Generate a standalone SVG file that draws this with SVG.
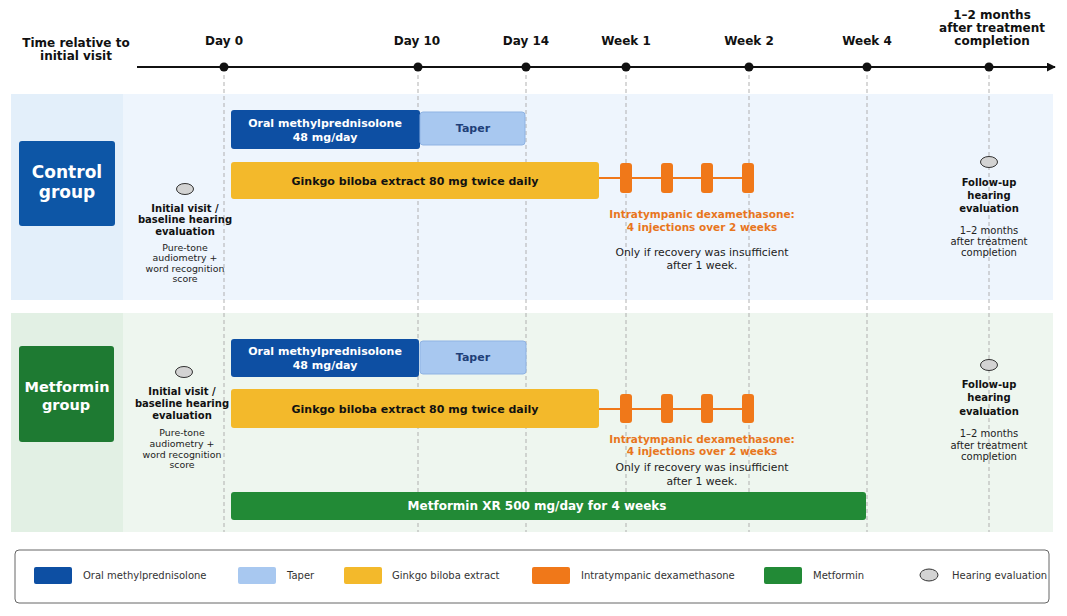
<svg xmlns="http://www.w3.org/2000/svg" width="1067" height="616" viewBox="0 0 1067 616">
<defs>
<style>
text{font-family:"DejaVu Sans","Liberation Sans",sans-serif;text-anchor:middle;}
.hdr{font-size:12px;font-weight:bold;fill:#111;}
.grp{font-size:17px;font-weight:bold;fill:#fff;}
.grp2{font-size:14.5px;font-weight:bold;fill:#fff;}
.bar{font-size:11px;font-weight:bold;}
.w{fill:#fff;}
.dk{fill:#111;}
.tp{fill:#1f3f78;}
.ev{font-size:10px;font-weight:bold;fill:#111;}
.sub{font-size:9.4px;fill:#222;}
.sub2{font-size:10px;fill:#222;}
.or{font-size:10.5px;font-weight:bold;fill:#e8761e;}
.note{font-size:10.8px;fill:#222;}
.lg{font-size:10px;fill:#333;text-anchor:start;}
.vd{stroke:#a8a8a8;stroke-width:0.9;stroke-dasharray:4,3;fill:none;}
.dot{fill:#111;}
.eval{fill:#d3d3d3;stroke:#333;stroke-width:1;}
.inj{fill:#f07819;}
.mp{fill:#0d4fa3;}
.tap{fill:#a8c8f0;stroke:#8fb3e3;stroke-width:1;}
.gk{fill:#f3b92b;}
.mf{fill:#228a36;}
</style>
<marker id="arr" viewBox="0 0 10 10" refX="9" refY="5" markerWidth="9" markerHeight="9" markerUnits="userSpaceOnUse" orient="auto"><path d="M0,0 L10,5 L0,10 z" fill="#111"/></marker>
</defs>
<rect width="1067" height="616" fill="#fff"/>

<!-- bands -->
<g id="band-control">
<rect x="11" y="94" width="1042" height="206" fill="#eef5fd"/>
<rect x="11" y="94" width="112" height="206" fill="#e3effa"/>
</g>
<g id="band-metformin">
<rect x="11" y="313" width="1042" height="219" fill="#eef6ef"/>
<rect x="11" y="313" width="112" height="219" fill="#e2f0e4"/>
</g>

<!-- timeline -->
<g id="timeline">
<text class="hdr" x="76" y="47">Time relative to</text>
<text class="hdr" x="76" y="60">initial visit</text>
<line x1="137" y1="67" x2="1055" y2="67" stroke="#111" stroke-width="2" marker-end="url(#arr)"/>
<circle class="dot" cx="224" cy="67" r="4.5"/>
<circle class="dot" cx="418" cy="67" r="4.5"/>
<circle class="dot" cx="526" cy="67" r="4.5"/>
<circle class="dot" cx="626" cy="67" r="4.5"/>
<circle class="dot" cx="749" cy="67" r="4.5"/>
<circle class="dot" cx="867" cy="67" r="4.5"/>
<circle class="dot" cx="989" cy="67" r="4.5"/>
<text class="hdr" x="224" y="45">Day 0</text>
<text class="hdr" x="417" y="45">Day 10</text>
<text class="hdr" x="526" y="45">Day 14</text>
<text class="hdr" x="626" y="45">Week 1</text>
<text class="hdr" x="749" y="45">Week 2</text>
<text class="hdr" x="867" y="45">Week 4</text>
<text class="hdr" x="992" y="19">1–2 months</text>
<text class="hdr" x="992" y="32">after treatment</text>
<text class="hdr" x="992" y="45">completion</text>
</g>

<g id="gridlines">
<line class="vd" x1="224" y1="75" x2="224" y2="532"/>
<line class="vd" x1="418" y1="75" x2="418" y2="532"/>
<line class="vd" x1="526" y1="75" x2="526" y2="532"/>
<line class="vd" x1="626" y1="75" x2="626" y2="532"/>
<line class="vd" x1="749" y1="75" x2="749" y2="532"/>
<line class="vd" x1="867" y1="75" x2="867" y2="532"/>
<line class="vd" x1="989" y1="75" x2="989" y2="532"/>
</g>

<!-- Control group -->
<g id="control-label">
<rect x="19" y="141" width="96" height="85" rx="3" fill="#0d56a6"/>
<text class="grp" x="67" y="178">Control</text>
<text class="grp" x="67" y="198">group</text>
</g>
<g id="control-baseline">
<ellipse class="eval" cx="185" cy="189" rx="8.5" ry="5.5"/>
<text class="ev" x="185" y="212">Initial visit /</text>
<text class="ev" x="185" y="223">baseline hearing</text>
<text class="ev" x="185" y="235">evaluation</text>
<text class="sub" x="185" y="251">Pure-tone</text>
<text class="sub" x="185" y="261">audiometry +</text>
<text class="sub" x="185" y="272">word recognition</text>
<text class="sub" x="185" y="282">score</text>
</g>
<g id="control-mp">
<rect class="mp" x="231" y="110" width="189" height="39" rx="3"/>
<text class="bar w" x="325" y="127">Oral methylprednisolone</text>
<text class="bar w" x="325" y="141">48 mg/day</text>
</g>
<g id="control-taper">
<rect class="tap" x="420" y="112" width="105" height="33" rx="3"/>
<text class="bar tp" x="473" y="132">Taper</text>
</g>
<g id="control-ginkgo">
<rect class="gk" x="231" y="162" width="368" height="37" rx="3"/>
<text class="bar dk" x="415" y="185">Ginkgo biloba extract 80 mg twice daily</text>
</g>
<g id="control-dex">
<line x1="599" y1="178" x2="748" y2="178" stroke="#f07819" stroke-width="2"/>
<rect class="inj" x="620" y="163" width="12" height="30" rx="3"/>
<rect class="inj" x="661" y="163" width="12" height="30" rx="3"/>
<rect class="inj" x="701" y="163" width="12" height="30" rx="3"/>
<rect class="inj" x="742" y="163" width="12" height="30" rx="3"/>
<text class="or" x="702" y="218">Intratympanic dexamethasone:</text>
<text class="or" x="702" y="231">4 injections over 2 weeks</text>
<text class="note" x="702" y="256">Only if recovery was insufficient</text>
<text class="note" x="702" y="269">after 1 week.</text>
</g>
<g id="control-followup">
<ellipse class="eval" cx="989" cy="162" rx="8.5" ry="5.5"/>
<text class="ev" x="989" y="186">Follow-up</text>
<text class="ev" x="989" y="199">hearing</text>
<text class="ev" x="989" y="212">evaluation</text>
<text class="sub2" x="989" y="234">1–2 months</text>
<text class="sub2" x="989" y="245">after treatment</text>
<text class="sub2" x="989" y="256">completion</text>
</g>

<!-- Metformin group -->
<g id="metformin-label">
<rect x="19" y="346" width="95" height="96" rx="3" fill="#1e7a32"/>
<text class="grp2" x="67" y="392">Metformin</text>
<text class="grp2" x="66" y="410">group</text>
</g>
<g id="metformin-baseline">
<ellipse class="eval" cx="184" cy="372" rx="8.5" ry="5.5"/>
<text class="ev" x="182" y="395">Initial visit /</text>
<text class="ev" x="182" y="407">baseline hearing</text>
<text class="ev" x="182" y="419">evaluation</text>
<text class="sub" x="182" y="436">Pure-tone</text>
<text class="sub" x="182" y="447">audiometry +</text>
<text class="sub" x="182" y="458">word recognition</text>
<text class="sub" x="182" y="468">score</text>
</g>
<g id="metformin-mp">
<rect class="mp" x="231" y="339" width="188" height="38" rx="3"/>
<text class="bar w" x="325" y="355">Oral methylprednisolone</text>
<text class="bar w" x="325" y="369">48 mg/day</text>
</g>
<g id="metformin-taper">
<rect class="tap" x="420" y="341" width="106" height="33" rx="3"/>
<text class="bar tp" x="473" y="361">Taper</text>
</g>
<g id="metformin-ginkgo">
<rect class="gk" x="231" y="389" width="368" height="39" rx="3"/>
<text class="bar dk" x="415" y="413">Ginkgo biloba extract 80 mg twice daily</text>
</g>
<g id="metformin-dex">
<line x1="599" y1="409" x2="748" y2="409" stroke="#f07819" stroke-width="2"/>
<rect class="inj" x="620" y="394" width="12" height="29" rx="3"/>
<rect class="inj" x="661" y="394" width="12" height="29" rx="3"/>
<rect class="inj" x="701" y="394" width="12" height="29" rx="3"/>
<rect class="inj" x="742" y="394" width="12" height="29" rx="3"/>
<text class="or" x="702" y="443">Intratympanic dexamethasone:</text>
<text class="or" x="702" y="455">4 injections over 2 weeks</text>
<text class="note" x="702" y="471">Only if recovery was insufficient</text>
<text class="note" x="702" y="485">after 1 week.</text>
</g>
<g id="metformin-xr">
<rect class="mf" x="231" y="492" width="635" height="28" rx="3"/>
<text class="bar w" x="537" y="510" style="font-size:12px">Metformin XR 500 mg/day for 4 weeks</text>
</g>
<g id="metformin-followup">
<ellipse class="eval" cx="989" cy="365" rx="8.5" ry="5.5"/>
<text class="ev" x="989" y="388">Follow-up</text>
<text class="ev" x="989" y="401">hearing</text>
<text class="ev" x="989" y="415">evaluation</text>
<text class="sub2" x="989" y="437">1–2 months</text>
<text class="sub2" x="989" y="449">after treatment</text>
<text class="sub2" x="989" y="460">completion</text>
</g>

<!-- legend -->
<g id="legend">
<rect x="15" y="550" width="1034" height="53" rx="4" fill="#fff" stroke="#666" stroke-width="1"/>
<rect class="mp" x="34" y="567" width="38" height="17" rx="2"/>
<text class="lg" x="83" y="579">Oral methylprednisolone</text>
<rect x="238" y="567" width="38" height="17" rx="2" fill="#a8c8f0"/>
<text class="lg" x="287" y="579">Taper</text>
<rect class="gk" x="344" y="567" width="38" height="17" rx="2"/>
<text class="lg" x="392" y="579">Ginkgo biloba extract</text>
<rect class="inj" x="532" y="567" width="38" height="17" rx="2"/>
<text class="lg" x="581" y="579">Intratympanic dexamethasone</text>
<rect class="mf" x="764" y="567" width="38" height="17" rx="2"/>
<text class="lg" x="813" y="579">Metformin</text>
<ellipse class="eval" cx="929" cy="575" rx="9" ry="6"/>
<text class="lg" x="952" y="579">Hearing evaluation</text>
</g>
</svg>
